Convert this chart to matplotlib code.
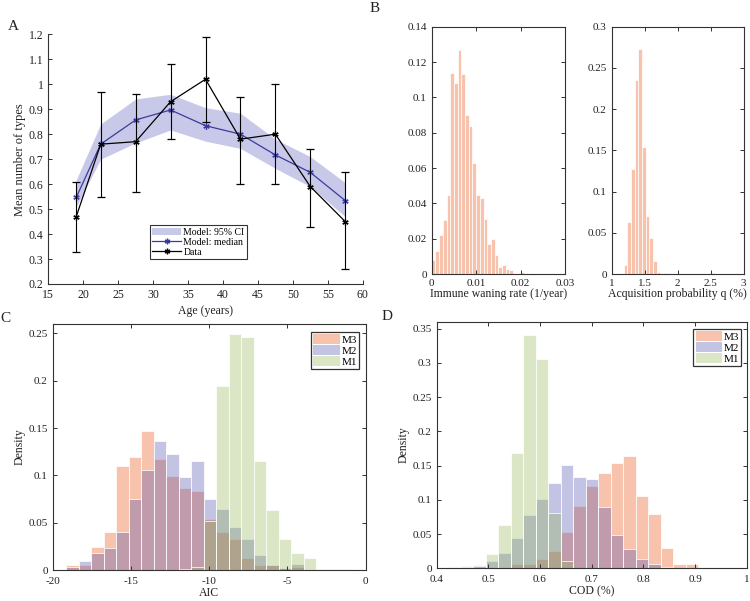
import numpy as np
import matplotlib
matplotlib.use('Agg')
import matplotlib.pyplot as plt
from matplotlib.patches import Patch
from matplotlib.lines import Line2D
from matplotlib.ticker import FuncFormatter, MultipleLocator

plt.rcParams['font.family'] = ['Liberation Serif', 'DejaVu Serif']
plt.rcParams['font.size'] = 8

# ---------------- Panel A data ----------------
age = [19, 22.5, 27.5, 32.5, 37.5, 42.5, 47.5, 52.5, 57.5]
data_mean = [0.47, 0.76, 0.77, 0.93, 1.02, 0.78, 0.80, 0.59, 0.45]
data_lo = [0.33, 0.55, 0.57, 0.78, 0.85, 0.60, 0.60, 0.43, 0.26]
data_hi = [0.61, 0.97, 0.96, 1.08, 1.19, 0.95, 1.00, 0.74, 0.65]
model_median = [0.547, 0.76, 0.857, 0.897, 0.834, 0.80, 0.717, 0.647, 0.534]
ci_lo = [0.51, 0.70, 0.765, 0.817, 0.772, 0.743, 0.663, 0.59, 0.47]
ci_hi = [0.617, 0.841, 0.941, 0.96, 0.906, 0.884, 0.78, 0.71, 0.606]

# ---------------- Panel B data ----------------
waning_start = 0.0
waning_width = 0.01 / 12
waning_density = [0.008, 0.0132, 0.0219, 0.0308, 0.045, 0.114, 0.108, 0.127, 0.113,
                  0.090, 0.084, 0.063, 0.045, 0.043, 0.031, 0.017, 0.020, 0.011,
                  0.004, 0.005, 0.003, 0.002, 0.0, 0.0, 0.001]
acq_start = 1.18
acq_width = 0.0555
acq_density = [0.011, 0.063, 0.127, 0.235, 0.273, 0.154, 0.070, 0.044, 0.016, 0.003,
               0.0, 0.0008, 0.0, 0.0, 0.0, 0.0, 0.0, 0.0, 0.0, 0.0, 0.0, 0.0, 0.0, 0.0, 0.0007]

# ---------------- Panel C data (AIC) ----------------
aic_start = -19.14
aic_width = 0.8
aic_m3 = [0.005, 0.005, 0.0246, 0.040, 0.110, 0.119, 0.147, 0.117, 0.099, 0.087, 0.083,
          0.054, 0.040, 0.033, 0.013, 0.005, 0.005, 0.002, 0.0035, 0, 0, 0, 0]
aic_m2 = [0.003, 0.0095, 0.0176, 0.0236, 0.040, 0.075, 0.106, 0.136, 0.123, 0.098, 0.115,
          0.075, 0.065, 0.045, 0.033, 0.016, 0.005, 0.002, 0.0065, 0, 0, 0, 0]
aic_m1 = [0, 0, 0, 0, 0, 0, 0, 0, 0.0005, 0.0015, 0.0035, 0.052, 0.195, 0.249, 0.246,
          0.115, 0.063, 0.033, 0.018, 0.0128, 0.0012, 0.0008, 0.0012]

# ---------------- Panel D data (COD) ----------------
cod_start = 0.4225
cod_width = 0.0242
cod_m3 = [0, 0, 0, 0, 0, 0.007, 0.007, 0.013, 0.025, 0.053, 0.091, 0.1195, 0.139, 0.154,
          0.164, 0.105, 0.079, 0.030, 0.007, 0.006]
cod_m2 = [0.0024, 0.004, 0.005, 0.0107, 0.023, 0.044, 0.078, 0.101, 0.1245, 0.151, 0.134,
          0.130, 0.090, 0.049, 0.028, 0.013, 0.0065, 0.0024, 0.001, 0]
cod_m1 = [0.001, 0.0015, 0.004, 0.0205, 0.0625, 0.168, 0.341, 0.305, 0.081, 0.011,
          0, 0, 0, 0, 0, 0, 0, 0, 0, 0]

model_labels = ['M3', 'M2', 'M1']

# ---------------- Styles ----------------
ALPHA = 0.33
C_OR = (235/255, 75/255, 5/255)
C_BL = (75/255, 75/255, 175/255)
C_GR = (145/255, 180/255, 80/255)
EDGE = (1, 1, 1, 0.75)
SPINE = '#333333'
TXT = '#222222'

W, H = 750, 601
fig = plt.figure(figsize=(W/100, H/100), dpi=100)


def box(l, r, t, b):
    return [l / W, (H - b) / H, (r - l) / W, (b - t) / H]


def style(ax, boxed=True):
    for s in ax.spines.values():
        s.set_color(SPINE)
        s.set_linewidth(0.8)
    if boxed:
        ax.tick_params(direction='in', length=3, width=0.7, top=True, right=True,
                       colors=SPINE, labelcolor=TXT, labelsize=8)
    else:
        ax.spines['top'].set_visible(False)
        ax.spines['right'].set_visible(False)
        ax.tick_params(direction='in', length=3, width=0.7, colors=SPINE,
                       labelcolor=TXT, labelsize=8.5)
    ax.xaxis.set_major_formatter(FuncFormatter(lambda v, p: '%g' % round(v, 6)))
    ax.yaxis.set_major_formatter(FuncFormatter(lambda v, p: '%g' % round(v, 6)))


def hist_bars(ax, start, width, heights, color):
    n = len(heights)
    edges = start + width * np.arange(n)
    fc = (color[0], color[1], color[2], ALPHA)
    ax.bar(edges, heights, width=width, align='edge', facecolor=fc,
           edgecolor=EDGE, linewidth=0.7)


# ---------------- Panel A ----------------
axA = fig.add_axes(box(48.3, 362.7, 34.3, 284))
axA.fill_between(age, ci_lo, ci_hi, color=(200/255, 200/255, 232/255), linewidth=0,
                 label='Model: 95% CI')
axA.plot(age, model_median, color='#3b3b9e', linewidth=0.9, marker=(6, 2, 0),
         markersize=4.5, markeredgewidth=0.9, label='Model: median')
yerr = [np.array(data_mean) - np.array(data_lo), np.array(data_hi) - np.array(data_mean)]
axA.errorbar(age, data_mean, yerr=yerr, color='black', linewidth=0.9, capsize=2.6,
             elinewidth=0.8, capthick=0.8, marker=(6, 2, 0), markersize=4.5,
             markeredgewidth=0.9)
axA.set_xlim(15, 60)
axA.set_ylim(0.2, 1.2)
axA.xaxis.set_major_locator(MultipleLocator(5))
axA.yaxis.set_major_locator(MultipleLocator(0.1))
style(axA, boxed=False)
axA.set_xlabel('Age (years)', fontsize=8.5, color=TXT, labelpad=3)
axA.set_ylabel('Mean number of types', fontsize=9, color=TXT, labelpad=2)
legA = axA.legend(handles=[
    Patch(facecolor=(200/255, 200/255, 232/255), edgecolor='none', label='Model: 95% CI'),
    Line2D([], [], color='#3b3b9e', linewidth=0.9, marker=(6, 2, 0), markersize=4,
           label='Model: median'),
    Line2D([], [], color='black', linewidth=0.9, marker=(6, 2, 0), markersize=4, label='Data')],
    loc='lower left', bbox_to_anchor=(0.323, 0.10), fontsize=7, frameon=True,
    fancybox=False, edgecolor='black', borderpad=0.25, labelspacing=0.1,
    handlelength=3.0, handletextpad=0.2, borderaxespad=0)
legA.get_frame().set_linewidth(0.8)

# ---------------- Panel B ----------------
axB1 = fig.add_axes(box(431.7, 565, 26.7, 274))
hist_bars(axB1, waning_start, waning_width, waning_density, C_OR)
axB1.set_xlim(0, 0.03)
axB1.set_ylim(0, 0.14)
axB1.set_xticks([0, 0.01, 0.02, 0.03])
axB1.yaxis.set_major_locator(MultipleLocator(0.02))
style(axB1)
axB1.set_xlabel('Immune waning rate (1/year)', fontsize=8.5, color=TXT, labelpad=0)

axB2 = fig.add_axes(box(611.7, 743.7, 26.7, 274))
hist_bars(axB2, acq_start, acq_width, acq_density, C_OR)
axB2.set_xlim(1, 3)
axB2.set_ylim(0, 0.3)
axB2.xaxis.set_major_locator(MultipleLocator(0.5))
axB2.yaxis.set_major_locator(MultipleLocator(0.05))
style(axB2)
axB2.set_xlabel('Acquisition probability q (%)', fontsize=8.5, color=TXT, labelpad=0)

# ---------------- Panel C ----------------
axC = fig.add_axes(box(52.7, 365.5, 324, 570))
hist_bars(axC, aic_start, aic_width, aic_m3, C_OR)
hist_bars(axC, aic_start, aic_width, aic_m2, C_BL)
hist_bars(axC, aic_start, aic_width, aic_m1, C_GR)
axC.set_xlim(-20, 0)
axC.set_ylim(0, 0.26)
axC.xaxis.set_major_locator(MultipleLocator(5))
axC.yaxis.set_major_locator(MultipleLocator(0.05))
style(axC)
axC.tick_params(axis='x', pad=5)
axC.set_xlabel('AIC', fontsize=8.5, color=TXT, labelpad=1)
axC.set_ylabel('Density', fontsize=8.5, color=TXT, labelpad=2)

# ---------------- Panel D ----------------
axD = fig.add_axes(box(436.7, 746.7, 321.7, 568.3))
hist_bars(axD, cod_start, cod_width, cod_m3, C_OR)
hist_bars(axD, cod_start, cod_width, cod_m2, C_BL)
hist_bars(axD, cod_start, cod_width, cod_m1, C_GR)
axD.set_xlim(0.4, 1)
axD.set_ylim(0, 0.36)
axD.xaxis.set_major_locator(MultipleLocator(0.1))
axD.yaxis.set_major_locator(MultipleLocator(0.05))
style(axD)
axD.tick_params(axis='x', pad=5)
axD.set_xlabel('COD (%)', fontsize=8.5, color=TXT, labelpad=1)
axD.set_ylabel('Density', fontsize=8.5, color=TXT, labelpad=2)


def model_legend(ax, anchor):
    handles = [Patch(facecolor=(c[0], c[1], c[2], ALPHA), edgecolor='none', label=l)
               for c, l in zip([C_OR, C_BL, C_GR], model_labels)]
    lg = ax.legend(handles=handles, loc='upper right', bbox_to_anchor=anchor, fontsize=8,
                   frameon=True, fancybox=False, edgecolor='black', borderpad=0.2,
                   labelspacing=0.05, handlelength=2.4, handleheight=0.9,
                   handletextpad=0.1, borderaxespad=0)
    lg.get_frame().set_linewidth(0.9)


model_legend(axC, (0.979, 0.967))
model_legend(axD, (0.982, 0.970))

# ---------------- Panel letters ----------------
for letter, x, y in [('A', 13, 27), ('B', 375, 8), ('C', 5, 318), ('D', 387, 316)]:
    fig.text(x / W, 1 - y / H, letter, fontsize=11, color=TXT, ha='center', va='center')

fig.savefig('out.png', dpi=100)
